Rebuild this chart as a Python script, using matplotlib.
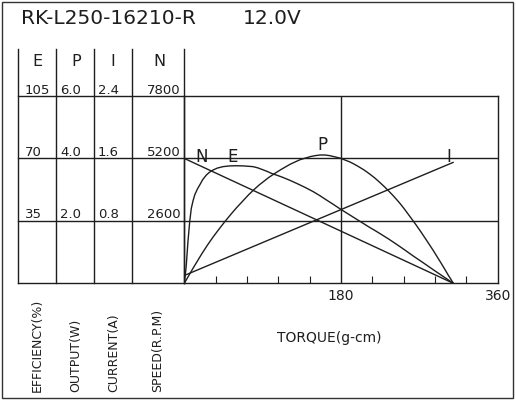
import matplotlib
matplotlib.use("Agg")
import matplotlib.pyplot as plt
from matplotlib.patches import Rectangle
from matplotlib.lines import Line2D
from matplotlib import transforms

plt.rcParams['font.family'] = ['DejaVu Sans']

# motor data
torque_n = [0, 309]
speed = [5200, 0]

torque_i = [0, 309]
current = [0.10, 1.55]

torque_p = [0, 5, 10, 15, 20, 26.5, 33, 40, 47, 53.5, 60, 67, 74, 80, 86, 91.5, 97, 104.5,
            112, 117, 122, 127.5, 133, 139, 145, 150.5, 156, 161.5, 167, 173, 179, 184.5,
            190, 195, 200, 206.5, 213, 219, 225, 230, 235, 239.5, 244, 248, 252, 256.5,
            261, 266.5, 272, 277, 282, 286, 290, 293.8, 297.5, 300.3, 303, 306, 309]
power = [0, 0.24, 0.48, 0.71, 0.94, 1.22, 1.48, 1.74, 1.99, 2.21, 2.42, 2.63, 2.84, 3.00,
         3.15, 3.27, 3.39, 3.53, 3.66, 3.74, 3.82, 3.89, 3.96, 4.01, 4.06, 4.09, 4.11, 4.11,
         4.09, 4.05, 4.01, 3.95, 3.89, 3.82, 3.74, 3.63, 3.50, 3.37, 3.22, 3.09, 2.95, 2.82,
         2.68, 2.55, 2.41, 2.24, 2.07, 1.86, 1.64, 1.43, 1.22, 1.05, 0.87, 0.70, 0.53, 0.40,
         0.27, 0.14, 0]

torque_e = [0, 1, 2.3, 4.2, 6.2, 8, 10, 12, 15, 17.7, 21, 25.3, 29, 33, 38, 44.5, 52, 59.7,
            68, 79, 84.5, 90, 95.3, 100.7, 106.3, 112, 121, 130, 139, 148, 155.5, 163, 171,
            179, 187.5, 196, 204.5, 213, 219, 225, 234.5, 244, 253.5, 263, 274.5, 286, 297.5, 309]
eff = [0, 4, 10.3, 23.4, 34.5, 41.9, 46.2, 49.6, 52.8, 55.1, 58.0, 60.7, 62.3, 63.5, 64.6, 65.4,
       65.8, 65.9, 65.8, 65.4, 64.7, 63.7, 62.7, 61.5, 60.6, 59.6, 57.8, 55.8, 53.7, 51.4, 49.2,
       46.8, 44.3, 41.7, 39.1, 36.5, 33.9, 31.3, 29.6, 27.8, 24.9, 21.8, 18.6, 15.3, 11.5, 7.6,
       3.8, 0]

col_names = ['E', 'P', 'I', 'N']
row_speeds = [2600, 5200, 7800]
e_labels = ['35', '70', '105']
p_labels = ['2.0', '4.0', '6.0']
i_labels = ['0.8', '1.6', '2.4']
n_labels = ['2600', '5200', '7800']
bottom_names = ['EFFICIENCY(%)', 'OUTPUT(W)', 'CURRENT(A)', 'SPEED(R.P.M)']

W, H = 516, 400
ink = '#1e1e1e'
lw = 1.0


def fx(px):
    return px / W


def fy(py):
    return 1 - py / H


fig = plt.figure(figsize=(5.16, 4.0), dpi=100)

# outer frame
fig.patches.append(Rectangle((fx(1.5), fy(397.5)), fx(511), 396 / H, transform=fig.transFigure,
                             fill=False, edgecolor='#333333', linewidth=1.0))

fig.text(fx(21), fy(18), 'RK-L250-16210-R', fontsize=14.5, color=ink, ha='left', va='center')
fig.text(fx(243), fy(18), '12.0V', fontsize=14.5, color=ink, ha='left', va='center')

left, right, top, bottom = 184.3, 497.7, 96, 283.3
ax = fig.add_axes([fx(left), fy(bottom), (right - left) / W, (bottom - top) / H])
ax.set_xlim(0, 360)
ax.set_ylim(0, 7800)
for s in ax.spines.values():
    s.set_color(ink)
    s.set_linewidth(lw)

ax.set_xticks([180, 360])
ax.set_xticklabels(['180', '360'])
ax.set_xticks(range(36, 360, 36), minor=True)
ax.tick_params(axis='x', which='major', length=0, pad=4, labelsize=10, labelcolor=ink)
ax.tick_params(axis='x', which='minor', direction='in', length=4.8, width=0.8, color=ink)
ax.set_yticks([])
ax.axvline(180, color=ink, lw=lw)
for v in row_speeds[:-1]:
    ax.axhline(v, color=ink, lw=lw)

curve_kw = dict(color=ink, lw=lw, solid_joinstyle='round', solid_capstyle='round')
ax.plot(torque_n, speed, **curve_kw)

ax_i = ax.twinx()
ax_i.set_ylim(0, 2.4)
ax_i.axis('off')
ax_i.plot(torque_i, current, **curve_kw)

ax_p = ax.twinx()
ax_p.set_ylim(0, 6.0)
ax_p.axis('off')
ax_p.plot(torque_p, power, **curve_kw)

ax_e = ax.twinx()
ax_e.set_ylim(0, 105)
ax_e.axis('off')
ax_e.plot(torque_e, eff, **curve_kw)

# curve names
ax.text(20, 5270, 'N', fontsize=12, color=ink, ha='center', va='center')
ax.text(55, 5270, 'E', fontsize=12, color=ink, ha='center', va='center')
ax.text(159, 5760, 'P', fontsize=12, color=ink, ha='center', va='center')
ax.text(303.5, 5250, 'I', fontsize=12, color=ink, ha='center', va='center')

# left scale table
blend = transforms.blended_transform_factory(fig.transFigure, ax.transData)
col_x = [17.7, 56, 94.3, 131.7, left]
for v in [0] + row_speeds:
    fig.add_artist(Line2D([fx(col_x[0]), fx(left)], [v, v], transform=blend, color=ink, lw=lw))
for x in col_x:
    fig.add_artist(Line2D([fx(x), fx(x)], [fy(49.3), fy(bottom)], transform=fig.transFigure,
                          color=ink, lw=lw))

head_x = [37.5, 76, 112.5, 159]
for name, x in zip(col_names, head_x):
    fig.text(fx(x), fy(61), name, fontsize=11.5, color=ink, ha='center', va='center')

val_x = [25, 60, 98, 147]
for labels, x in zip([e_labels, p_labels, i_labels, n_labels], val_x):
    for v, lab in zip(row_speeds, labels):
        t = fig.text(fx(x), v, lab, fontsize=9.5, color=ink, ha='left', va='baseline',
                     transform=blend)
        t.set_transform(blend + transforms.ScaledTranslation(0, 2.5 / 100, fig.dpi_scale_trans))

name_x = [37, 76, 114, 157.5]
for name, x in zip(bottom_names, name_x):
    fig.text(fx(x), fy(392), name, fontsize=9, color=ink, rotation=90, ha='center', va='bottom')

fig.text(fx(329), fy(338), 'TORQUE(g-cm)', fontsize=10, color=ink, ha='center', va='center')

fig.savefig('out.png', dpi=100)
